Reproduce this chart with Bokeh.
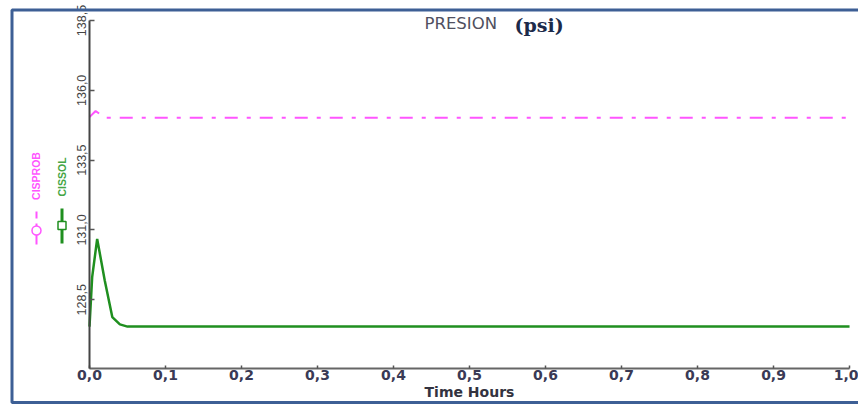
import math
from bokeh.plotting import figure
from bokeh.models import Range1d, FixedTicker, CustomJSTickFormatter, Label, BoxAnnotation
from bokeh.embed import file_html
from bokeh.resources import INLINE

# ---------------- data ----------------
cissol_time = [0.0, 0.0035, 0.0101, 0.02, 0.03, 0.04, 0.05, 0.1, 0.2, 0.3, 0.4, 0.5, 0.6, 0.7, 0.8, 0.9, 1.0]
cissol_psi = [127.54, 129.31, 130.68, 129.2, 127.88, 127.62, 127.54, 127.54, 127.54, 127.54, 127.54,
              127.54, 127.54, 127.54, 127.54, 127.54, 127.54]
cisprob_time = [0.0, 0.008, 0.02, 0.1, 0.2, 0.3, 0.4, 0.5, 0.6, 0.7, 0.8, 0.9, 1.0]
cisprob_psi = [135.04, 135.26, 135.02, 135.02, 135.02, 135.02, 135.02, 135.02, 135.02, 135.02,
               135.02, 135.02, 135.02]
x_ticks = [0.0, 0.1, 0.2, 0.3, 0.4, 0.5, 0.6, 0.7, 0.8, 0.9, 1.0]
y_ticks = [128.5, 131.0, 133.5, 136.0, 138.5]
title_main = "PRESION"
title_unit = "(psi)"
x_title = "Time Hours"
series_names = ["CISPROB", "CISSOL"]
series_colors = ["#ff55ff", "#1f8f1f"]

W, H = 858, 404
X0 = 0.0      # position of the y axis (data)
Y0 = 126.04   # position of the x axis (data)

p = figure(width=W, height=H, output_backend="svg", toolbar_location=None,
           x_range=Range1d(-0.1171, 1.0118), y_range=Range1d(124.75, 139.216),
           min_border=0, min_border_left=0, min_border_right=0,
           min_border_top=0, min_border_bottom=0)
p.title.visible = False
p.xgrid.visible = False
p.ygrid.visible = False
p.outline_line_color = None
p.background_fill_color = "white"
p.border_fill_color = "white"

fmt = CustomJSTickFormatter(code="return tick.toFixed(1).replace('.', ',');")

xa = p.xaxis[0]
xa.fixed_location = Y0
xa.bounds = (0, 1)
xa.ticker = FixedTicker(ticks=x_ticks)
xa.formatter = fmt
xa.minor_tick_line_color = None
xa.major_tick_in = 3
xa.major_tick_out = 0
xa.axis_line_color = "#666666"
xa.axis_line_width = 2
xa.major_tick_line_color = "#555555"
xa.major_tick_line_width = 1.5
xa.major_label_text_font = "DejaVu Sans"
xa.major_label_text_font_style = "bold"
xa.major_label_text_font_size = "14px"
xa.major_label_text_color = "#3a3a55"
xa.major_label_standoff = 2
xa.axis_label = x_title
xa.axis_label_text_font = "DejaVu Sans"
xa.axis_label_text_font_style = "bold"
xa.axis_label_text_font_size = "14px"
xa.axis_label_text_color = "#333340"
xa.axis_label_standoff = 0

ya = p.yaxis[0]
ya.fixed_location = X0
ya.bounds = (Y0, 138.5)
ya.ticker = FixedTicker(ticks=y_ticks)
ya.formatter = fmt
ya.minor_tick_line_color = None
ya.major_tick_in = 5
ya.major_tick_out = 0
ya.axis_line_color = "#444444"
ya.axis_line_width = 2
ya.major_tick_line_color = "#555555"
ya.major_tick_line_width = 1.5
ya.major_label_orientation = "vertical"
ya.major_label_text_font = "Liberation Sans"
ya.major_label_text_font_size = "12.5px"
ya.major_label_text_color = "#444444"
ya.major_label_standoff = 3

# series
p.line(cisprob_time, cisprob_psi, line_color=series_colors[0], line_width=2, line_dash="13 9 4 9")
p.line(cissol_time, cissol_psi, line_color=series_colors[1], line_width=2.5)

# title
p.add_layout(Label(x=424, y=H - 23, x_units="screen", y_units="screen", text=title_main,
                   text_font="DejaVu Sans", text_font_size="16.5px", text_color="#505060",
                   text_baseline="middle", text_align="left"))
p.add_layout(Label(x=514, y=H - 24, x_units="screen", y_units="screen", text=title_unit,
                   text_font="DejaVu Serif", text_font_size="19px", text_font_style="bold",
                   text_color="#1c2a4a", text_baseline="middle", text_align="left"))

# rotated legend on the left
p.add_layout(Label(x=35.5, y=H - 175.5, x_units="screen", y_units="screen", text=series_names[0],
                   angle=math.pi / 2, text_font="Liberation Sans", text_font_size="10.5px",
                   text_font_style="bold", text_color=series_colors[0],
                   text_align="center", text_baseline="middle"))
p.add_layout(Label(x=61.5, y=H - 176.5, x_units="screen", y_units="screen", text=series_names[1],
                   angle=math.pi / 2, text_font="Liberation Sans", text_font_size="10.5px",
                   text_font_style="bold", text_color="#45a545",
                   text_align="center", text_baseline="middle"))


def sbox(l, r, t, b, **kw):
    return BoxAnnotation(left=l, right=r, top=H - t, bottom=H - b,
                         left_units="screen", right_units="screen",
                         top_units="screen", bottom_units="screen", **kw)


# magenta legend key: dash, line, circle
p.add_layout(sbox(35, 37, 211, 218, fill_color=series_colors[0], fill_alpha=1, line_color=None))
p.add_layout(sbox(35, 37, 223, 244, fill_color=series_colors[0], fill_alpha=1, line_color=None))
p.add_layout(sbox(31.5, 40.5, 225.5, 234.5, fill_color="white", fill_alpha=1,
                  line_color=series_colors[0], line_alpha=1, line_width=1.5, border_radius=5))
# green legend key: line, square
p.add_layout(sbox(60, 63, 208, 243, fill_color=series_colors[1], fill_alpha=1, line_color=None))
p.add_layout(sbox(57.5, 65.5, 221, 229, fill_color="white", fill_alpha=1,
                  line_color=series_colors[1], line_alpha=1, line_width=1.5))

# outer blue frame
p.add_layout(sbox(11.5, 900, 9.5, 402, fill_alpha=0, line_color="#3d5f95", line_alpha=1,
                  line_width=3))

open("out.html", "w").write(file_html(p, INLINE))
